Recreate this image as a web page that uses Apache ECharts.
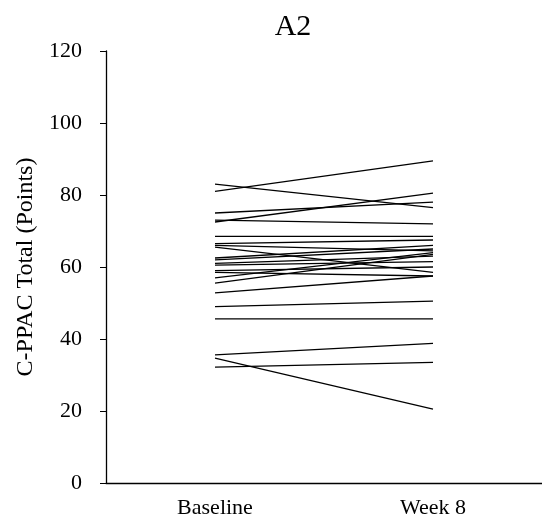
<!DOCTYPE html>
<html>
<head>
<meta charset="utf-8">
<script src="https://cdn.jsdelivr.net/npm/echarts@6/dist/echarts.min.js"></script>
<style>html,body{margin:0;padding:0;background:#fff}#c{width:542px;height:528px}</style>
</head>
<body>
<div id="c"></div>
<script>
const categories = ['Baseline', 'Week 8'];
const baselineValues = [83, 81, 75, 72.5, 73, 68.5, 66.5, 66, 65.5, 62.5, 62, 61, 60.5, 59, 58.5, 57, 55.5, 52.8, 49, 45.6, 35.6, 34.7, 32.2];
const week8Values    = [76.5, 89.5, 78, 80.5, 72, 68.5, 67.5, 64.5, 58.5, 66, 65, 63, 61.5, 60, 57.5, 64, 63.5, 57.5, 50.5, 45.6, 38.8, 20.5, 33.5];
const yTicks = [0, 20, 40, 60, 80, 100, 120];

const font = 'Liberation Serif, Times New Roman, serif';
const series = baselineValues.map((b, i) => ({
  type: 'line',
  data: [b, week8Values[i]],
  symbol: 'none',
  lineStyle: { color: '#000', width: 1.3 },
  silent: true,
  animation: false
}));

const chart = echarts.init(document.getElementById('c'));
chart.setOption({
  animation: false,
  title: { text: 'A2', left: 288, textAlign: 'center', top: 7, textStyle: { fontFamily: font, fontSize: 30, fontWeight: 'normal', color: '#000' } },
  grid: { left: 106, right: -4, top: 51, bottom: 45, containLabel: false },
  xAxis: {
    type: 'category', data: categories, boundaryGap: true,
    axisLine: { lineStyle: { color: '#000', width: 1.3 } },
    axisTick: { alignWithLabel: true, length: 4, lineStyle: { color: '#000' } },
    axisLabel: { fontFamily: font, fontSize: 22, color: '#000', margin: 14 }
  },
  yAxis: {
    type: 'value', min: yTicks[0], max: yTicks[yTicks.length - 1], interval: 20,
    axisLine: { show: true, lineStyle: { color: '#000', width: 1.3 } },
    axisTick: { show: true, length: 6, lineStyle: { color: '#000' } },
    splitLine: { show: false },
    axisLabel: { fontFamily: font, fontSize: 22, color: '#000', margin: 24 },
    name: 'C-PPAC Total (Points)', nameLocation: 'middle', nameGap: 64, nameRotate: 90,
    nameTextStyle: { fontFamily: font, fontSize: 24, color: '#000' }
  },
  series: series
});
</script>
</body>
</html>
